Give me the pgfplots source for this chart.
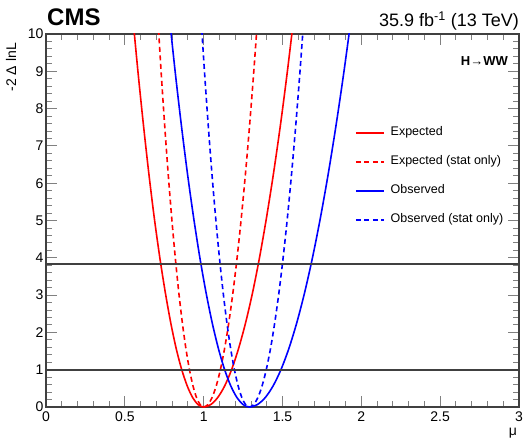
\documentclass[border=0pt]{standalone}
\usepackage{fontspec}
\setmainfont{Liberation Sans}
\usepackage{pgfplots}
\pgfplotsset{compat=1.18}

\definecolor{rootred}{RGB}{255,0,0}
\definecolor{rootblue}{RGB}{0,0,255}

\begin{document}
\begin{tikzpicture}
\begin{axis}[
  name=ax,
  scale only axis,
  width=473bp,
  height=373bp,
  xmin=0, xmax=3,
  ymin=0, ymax=10,
  xtick={0,0.5,...,3},
  ytick={0,1,...,10},
  minor x tick num=4,
  minor y tick num=4,
  tick align=inside,
  major tick length=11bp,
  minor tick length=6bp,
  tick style={black!50, line width=0.9bp},
  axis line style={black!75, line width=1.8bp},
  tick label style={font=\fontsize{14bp}{16bp}\selectfont},
  /pgf/number format/assume math mode=true,
  xticklabel style={yshift=-1bp},
  yticklabel style={xshift=1bp},
  legend cell align=left,
  legend style={draw=none, fill=none, at={(0.653,0.752)}, anchor=north west,
    inner sep=0pt, row sep=17bp,
    nodes={inner sep=0pt, text height=9bp, text depth=3bp},
    font=\fontsize{12.5bp}{15bp}\selectfont,
    /tikz/every odd column/.append style={column sep=6bp}},
  legend image code/.code={\draw[#1] (0bp,0bp) -- (28bp,0bp);},
]
\addplot[rootred, line width=1.6bp, smooth] coordinates {
(0.548,10.5625) (0.583,9) (0.618,7.5625) (0.6525,6.25) (0.687,5.0625) (0.722,4) (0.757,3.0625) (0.7915,2.25) (0.826,1.5625) (0.861,1) (0.896,0.5625) (0.9305,0.25) (0.965,0.0625) (1.0,0) (1.044,0.0625) (1.0885,0.25) (1.133,0.5625) (1.177,1) (1.221,1.5625) (1.2655,2.25) (1.310,3.0625) (1.354,4) (1.398,5.0625) (1.4425,6.25) (1.487,7.5625) (1.531,9) (1.575,10.5625)};
\addlegendentry{Expected}
\addplot[rootred, line width=1.6bp, smooth, dash pattern=on 5bp off 3.5bp] coordinates {
(0.7075,10.5625) (0.73,9) (0.7525,7.5625) (0.775,6.25) (0.7975,5.0625) (0.82,4) (0.8425,3.0625) (0.865,2.25) (0.8875,1.5625) (0.91,1) (0.9325,0.5625) (0.955,0.25) (0.9775,0.0625) (1.0,0) (1.0265,0.0625) (1.053,0.25) (1.0795,0.5625) (1.106,1) (1.1325,1.5625) (1.159,2.25) (1.1855,3.0625) (1.212,4) (1.2385,5.0625) (1.265,6.25) (1.2915,7.5625) (1.318,9) (1.3445,10.5625)};
\addlegendentry{Expected (stat only)}
\addplot[rootblue, line width=1.6bp, smooth] coordinates {
(0.7798,10.5625) (0.819,9) (0.8583,7.5625) (0.8975,6.25) (0.9368,5.0625) (0.976,4) (1.0153,3.0625) (1.0545,2.25) (1.0938,1.5625) (1.133,1) (1.1723,0.5625) (1.2115,0.25) (1.2508,0.0625) (1.29,0) (1.34,0.0625) (1.39,0.25) (1.44,0.5625) (1.49,1) (1.54,1.5625) (1.59,2.25) (1.64,3.0625) (1.69,4) (1.74,5.0625) (1.79,6.25) (1.84,7.5625) (1.89,9) (1.94,10.5625)};
\addlegendentry{Observed}
\addplot[rootblue, line width=1.6bp, smooth, dash pattern=on 5bp off 3.5bp] coordinates {
(0.9813,10.5625) (1.005,9) (1.0288,7.5625) (1.0525,6.25) (1.0763,5.0625) (1.1,4) (1.1238,3.0625) (1.1475,2.25) (1.1713,1.5625) (1.195,1) (1.2188,0.5625) (1.2425,0.25) (1.2663,0.0625) (1.29,0) (1.3168,0.0625) (1.3435,0.25) (1.3703,0.5625) (1.397,1) (1.4238,1.5625) (1.4505,2.25) (1.4773,3.0625) (1.504,4) (1.5308,5.0625) (1.5575,6.25) (1.5843,7.5625) (1.611,9) (1.6378,10.5625)};
\addlegendentry{Observed (stat only)}
% 68% and 95% CL lines
\addplot[black!75, line width=1.8bp, forget plot] coordinates {(0,1) (3,1)};
\addplot[black!75, line width=1.8bp, forget plot] coordinates {(0,3.84) (3,3.84)};
\end{axis}
% labels around the frame
\node[anchor=base west, inner sep=0pt, font=\fontsize{24bp}{28bp}\selectfont\bfseries]
  at ([xshift=1bp,yshift=8bp]ax.north west) {CMS};
\node[anchor=base east, inner sep=0pt, font=\fontsize{18bp}{21bp}\selectfont]
  at ([yshift=7bp]ax.north east) {35.9 fb\textsuperscript{-1} (13 TeV)};
\node[anchor=base east, inner sep=0pt, font=\fontsize{13bp}{15bp}\selectfont\bfseries]
  at ([xshift=-11bp,yshift=-32bp]ax.north east) {H→WW};
\node[rotate=90, anchor=base east, inner sep=0pt, font=\fontsize{14bp}{16bp}\selectfont]
  at ([xshift=-30bp,yshift=-9bp]ax.north west) {-2 Δ lnL};
\node[anchor=base, inner sep=0pt, font=\fontsize{14bp}{16bp}\selectfont]
  at ([xshift=-6bp,yshift=-28bp]ax.south east) {μ};
\path ([xshift=-46bp,yshift=-33bp]ax.south west) rectangle ++(532bp,440bp);
\end{tikzpicture}
\end{document}
